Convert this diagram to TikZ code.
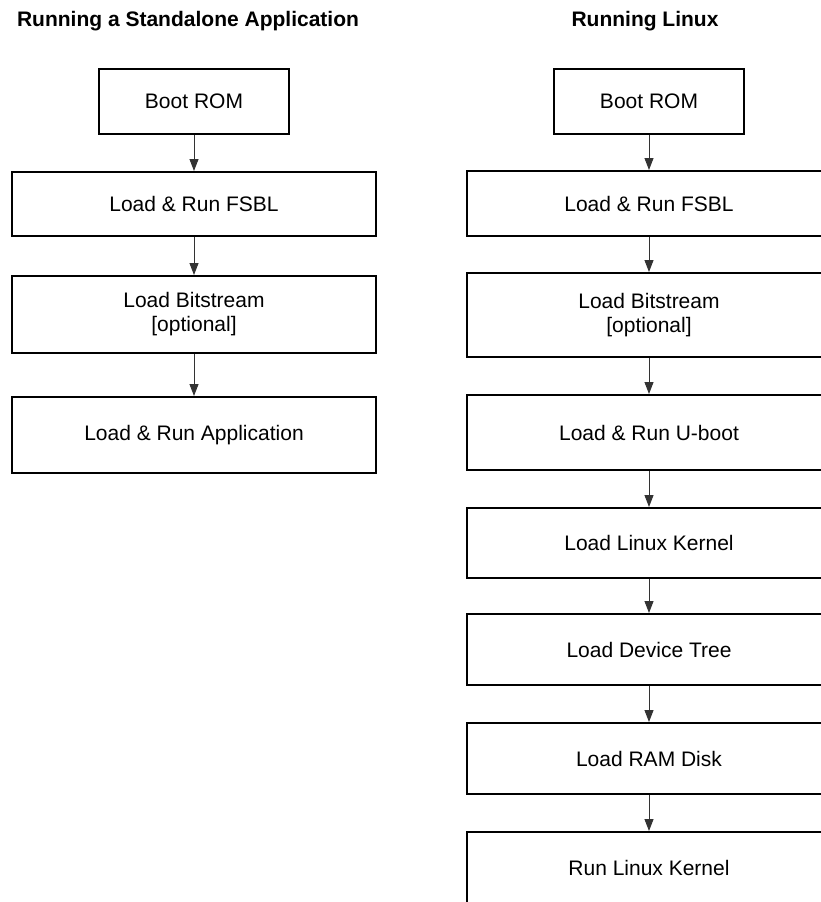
\documentclass[tikz,border=0pt]{standalone}
\usepackage{fontspec}
\setmainfont{Liberation Sans}
\usetikzlibrary{arrows.meta, positioning}

\begin{document}
\begin{tikzpicture}[
    x=1pt, y=1pt,
    node distance=36pt,
    >={Triangle[length=12pt, width=9pt]},
    font=\fontsize{21}{24}\selectfont,
    title/.style={font=\fontsize{21}{24}\selectfont\bfseries, anchor=base},
    box/.style={draw, rectangle, line width=2pt, align=center, minimum width=364pt, minimum height=70pt, inner sep=2pt},
    rom/.style={box, minimum width=190pt, minimum height=65pt},
    arrow/.style={->, line width=1pt, black!80}
  ]
    \useasboundingbox (0,0) rectangle (820,-902);
    % standalone application
    \node[title] (tapp) at (188,-27) {Running a Standalone Application};
    \node[rom] (arom) at (194,-101.5) {Boot ROM};
    \node[box, below=36pt of arom, minimum height=64pt] (afsbl) {Load \& Run FSBL};
    \node[box, below=38pt of afsbl, minimum height=77pt] (abit) {Load Bitstream\\{[optional]}};
    \node[box, below=42pt of abit, minimum height=76pt] (aapp) {Load \& Run Application};
    % linux
    \node[title] (tlin) at (645,-27) {Running Linux};
    \node[rom] (lrom) at (649,-101.5) {Boot ROM};
    \node[box, below=35pt of lrom, minimum height=65pt] (lfsbl) {Load \& Run FSBL};
    \node[box, below=35pt of lfsbl, minimum height=84pt] (lbit) {Load Bitstream\\{[optional]}};
    \node[box, below=36pt of lbit, minimum height=75pt] (luboot) {Load \& Run U-boot};
    \node[box, below=36pt of luboot] (lkern) {Load Linux Kernel};
    \node[box, below=34pt of lkern, minimum height=71pt] (ldtree) {Load Device Tree};
    \node[box, below=36pt of ldtree, minimum height=71pt] (lram) {Load RAM Disk};
    \node[box, below=36pt of lram, minimum height=71pt] (lrun) {Run Linux Kernel};
    \draw[arrow] (arom) -- (afsbl);
    \draw[arrow] (afsbl) -- (abit);
    \draw[arrow] (abit) -- (aapp);
    \draw[arrow] (lrom) -- (lfsbl);
    \draw[arrow] (lfsbl) -- (lbit);
    \draw[arrow] (lbit) -- (luboot);
    \draw[arrow] (luboot) -- (lkern);
    \draw[arrow] (lkern) -- (ldtree);
    \draw[arrow] (ldtree) -- (lram);
    \draw[arrow] (lram) -- (lrun);
  \end{tikzpicture}
\end{document}
